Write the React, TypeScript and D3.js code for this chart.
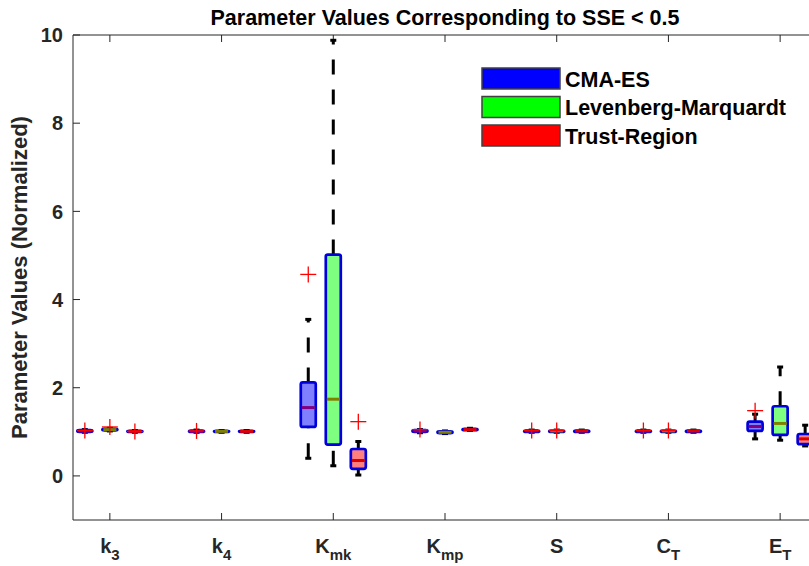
import React from "react";
import * as d3 from "d3";

// ---- data ----
const categoryBase = ["k", "k", "K", "K", "S", "C", "E"];
const categorySub = ["3", "4", "mk", "mp", "", "T", "T"];
const seriesNames = ["CMA-ES", "Levenberg-Marquardt", "Trust-Region"];
const seriesColors = ["#0000ff", "#00ff00", "#ff0000"];
const medianColors = ["#800080", "#808000", "#e00000"];
const yTicks = [0, 2, 4, 6, 8, 10];

// [lowerWhisker, q1, median, q3, upperWhisker] per category
const cmaStats = [
  [0.99, 1.0, 1.02, 1.04, 1.05],
  [0.99, 1.0, 1.01, 1.03, 1.04],
  [0.4, 1.11, 1.55, 2.12, 3.55],
  [0.98, 1.0, 1.02, 1.04, 1.05],
  [0.99, 1.0, 1.02, 1.03, 1.04],
  [0.99, 1.0, 1.02, 1.03, 1.04],
  [0.84, 1.02, 1.12, 1.23, 1.4],
];
const cmaOutliers = [[1.03], [1.02], [4.57], [1.05], [1.03], [1.03], [1.48]];

const lmStats = [
  [1.02, 1.03, 1.05, 1.07, 1.08],
  [0.99, 1.0, 1.01, 1.02, 1.03],
  [0.23, 0.71, 1.74, 5.02, 9.88],
  [0.96, 0.97, 0.99, 1.01, 1.02],
  [0.99, 1.0, 1.02, 1.03, 1.04],
  [0.99, 1.0, 1.02, 1.03, 1.04],
  [0.81, 0.93, 1.19, 1.58, 2.47],
];
const lmOutliers = [[1.11], [], [], [], [1.03], [1.03], []];

const trStats = [
  [0.99, 1.0, 1.01, 1.02, 1.03],
  [0.99, 1.0, 1.01, 1.02, 1.03],
  [0.02, 0.16, 0.35, 0.61, 0.78],
  [1.03, 1.04, 1.05, 1.07, 1.08],
  [0.99, 1.0, 1.02, 1.03, 1.04],
  [0.99, 1.0, 1.02, 1.03, 1.04],
  [0.68, 0.72, 0.84, 0.95, 1.15],
];
const trOutliers = [[1.01], [], [1.23], [], [], [], []];

const allStats = [cmaStats, lmStats, trStats];
const allOutliers = [cmaOutliers, lmOutliers, trOutliers];
const groupOffsets = [-0.224, 0, 0.224];

// ---- layout ----
const W = 809;
const H = 566;
const left = 73;
const right = 817;
const top = 35;
const bottom = 520;
const axisColor = "#262626";
const font = "'Liberation Sans', Arial, sans-serif";

export default function App() {
  const x = d3.scaleLinear().domain([-0.33, 6.33]).range([left, right]);
  const y = d3.scaleLinear().domain([-1, 10]).range([bottom, top]);
  const boxW = 15;
  const tickLen = 7;

  return (
    <svg
      width={W}
      height={H}
      style={{ position: "absolute", left: 0, top: 0, background: "#fff" }}
      fontFamily={font}
    >
      <defs>
        <clipPath id="plotclip">
          <rect x={left} y={top - 2} width={right - left} height={bottom - top + 4} />
        </clipPath>
      </defs>

      {/* axes frame */}
      <line x1={left} x2={right} y1={top} y2={top} stroke={axisColor} strokeWidth={1} />
      <line x1={left} x2={right} y1={bottom} y2={bottom} stroke={axisColor} strokeWidth={1} />
      <line x1={left} x2={left} y1={top} y2={bottom} stroke={axisColor} strokeWidth={1} />

      {/* y ticks */}
      {yTicks.map((t) => (
        <g key={"yt" + t}>
          <line x1={left} x2={left + tickLen} y1={y(t)} y2={y(t)} stroke={axisColor} />
          <text
            x={left - 10}
            y={y(t)}
            dy="0.36em"
            textAnchor="end"
            fontSize={20}
            fontWeight="bold"
            fill={axisColor}
          >
            {t}
          </text>
        </g>
      ))}

      {/* x ticks */}
      {categoryBase.map((b, i) => (
        <g key={"xt" + i}>
          <line x1={x(i)} x2={x(i)} y1={bottom} y2={bottom - tickLen} stroke={axisColor} />
          <line x1={x(i)} x2={x(i)} y1={top} y2={top + tickLen} stroke={axisColor} />
          <text
            x={x(i)}
            y={553}
            textAnchor="middle"
            fontSize={20}
            fontWeight="bold"
            fill={axisColor}
          >
            {b}
            {categorySub[i] && (
              <tspan fontSize={15} dy={7}>
                {categorySub[i]}
              </tspan>
            )}
          </text>
        </g>
      ))}

      {/* boxes */}
      <g clipPath="url(#plotclip)">
        {allStats.map((stats, s) =>
          stats.map((st, i) => {
            const cx = x(i + groupOffsets[s]);
            const [lo, q1, med, q3, hi] = st;
            return (
              <g key={`b${s}-${i}`}>
                <line
                  x1={cx}
                  x2={cx}
                  y1={y(lo)}
                  y2={y(q1)}
                  stroke="#000"
                  strokeWidth={3}
                  strokeDasharray="15,15"
                />
                <line
                  x1={cx}
                  x2={cx}
                  y1={y(q3)}
                  y2={y(hi)}
                  stroke="#000"
                  strokeWidth={3}
                  strokeDasharray="15,15"
                />
                <line x1={cx - 3} x2={cx + 3} y1={y(lo)} y2={y(lo)} stroke="#000" strokeWidth={3} />
                <line x1={cx - 3} x2={cx + 3} y1={y(hi)} y2={y(hi)} stroke="#000" strokeWidth={3} />
                <rect
                  x={cx - boxW / 2}
                  y={y(q3)}
                  width={boxW}
                  height={Math.max(0.5, y(q1) - y(q3))}
                  fill={seriesColors[s]}
                  fillOpacity={0.5}
                  stroke="#0000dd"
                  strokeWidth={2.7}
                  rx={2}
                />
                <line
                  x1={cx - boxW / 2 + 1}
                  x2={cx + boxW / 2 - 1}
                  y1={y(med)}
                  y2={y(med)}
                  stroke={medianColors[s]}
                  strokeWidth={3}
                />
                {allOutliers[s][i].map((o, k) => (
                  <g key={"o" + k} stroke="#ff0000" strokeWidth={1.3}>
                    <line x1={cx - 8} x2={cx + 8} y1={y(o)} y2={y(o)} />
                    <line x1={cx} x2={cx} y1={y(o) - 8} y2={y(o) + 8} />
                  </g>
                ))}
              </g>
            );
          })
        )}
      </g>

      {/* legend */}
      {seriesNames.map((n, s) => (
        <g key={"lg" + s}>
          <rect
            x={482}
            y={68 + s * 28.5}
            width={78}
            height={21}
            fill={seriesColors[s]}
            stroke="#404040"
            strokeWidth={1.5}
          />
          <text
            x={565}
            y={68 + s * 28.5 + 18.5}
            fontSize={21.5}
            fontWeight="bold"
            fill="#000"
          >
            {n}
          </text>
        </g>
      ))}

      {/* title */}
      <text
        x={(left + right) / 2}
        y={25}
        textAnchor="middle"
        fontSize={21.5}
        fontWeight="bold"
        fill="#000"
      >
        Parameter Values Corresponding to SSE &lt; 0.5
      </text>

      {/* y label */}
      <text
        transform={`translate(27, ${(top + bottom) / 2}) rotate(-90)`}
        textAnchor="middle"
        fontSize={22}
        fontWeight="bold"
        fill={axisColor}
      >
        Parameter Values (Normalized)
      </text>
    </svg>
  );
}
